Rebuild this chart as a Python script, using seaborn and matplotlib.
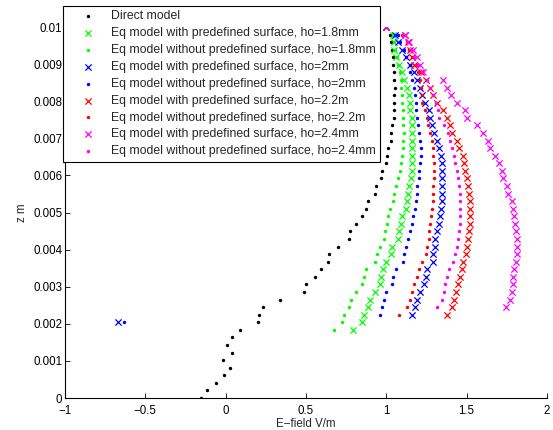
import matplotlib
matplotlib.use("Agg")
import matplotlib.pyplot as plt
import seaborn as sns

# z grid (m), shared by every series
Z = [0.0, 0.000204, 0.000408, 0.000612, 0.000816, 0.00102, 0.001224, 0.001429,
     0.001633, 0.001837, 0.002041, 0.002245, 0.002449, 0.002653, 0.002857, 0.003061,
     0.003265, 0.003469, 0.003673, 0.003878, 0.004082, 0.004286, 0.00449, 0.004694,
     0.004898, 0.005102, 0.005306, 0.00551, 0.005714, 0.005918, 0.006122, 0.006327,
     0.006531, 0.006735, 0.006939, 0.007143, 0.007347, 0.007551, 0.007755, 0.007959,
     0.008163, 0.008367, 0.008571, 0.008776, 0.00898, 0.009184, 0.009388, 0.009592,
     0.009796, 0.01]

# E-field values (V/m); each series starts at its own index of Z
direct_x = [-0.154, -0.116, -0.062, -0.009, 0.025, -0.017, 0.039, 0.008, 0.037, 0.089,
            0.203, 0.209, 0.232, 0.338, 0.49, 0.5, 0.556, 0.595, 0.635, 0.643,
            0.697, 0.767, 0.775, 0.809, 0.846, 0.875, 0.884, 0.929, 0.935, 0.968,
            0.973, 0.998, 1.002, 1.01, 1.029, 1.031, 1.037, 1.047, 1.047, 1.049,
            1.049, 1.051, 1.047, 1.047, 1.043, 1.043, 1.035, 1.029, 1.022]
green_with = [0.79, 0.846, 0.86, 0.884, 0.898, 0.93, 0.958, 0.969, 0.981, 0.995,
              1.03, 1.036, 1.07, 1.08, 1.09, 1.1, 1.125, 1.13, 1.137, 1.142,
              1.155, 1.16, 1.162, 1.163, 1.163, 1.163, 1.162, 1.16, 1.157, 1.15,
              1.145, 1.14, 1.128, 1.112, 1.096, 1.08, 1.062, 1.05, 1.045, 1.04, 0.998]
green_without = [0.674, 0.724, 0.738, 0.77, 0.78, 0.811, 0.848, 0.86, 0.875, 0.93,
                 0.94, 0.96, 0.985, 0.99, 1.002, 1.01, 1.025, 1.04, 1.05, 1.06,
                 1.072, 1.085, 1.093, 1.1, 1.104, 1.105, 1.108, 1.106, 1.104, 1.103,
                 1.1, 1.097, 1.093, 1.089, 1.083, 1.074, 1.068, 1.056, 1.046, 1.04]
blue_with = [-0.67, 1.163, 1.176, 1.19, 1.209, 1.232, 1.245, 1.252, 1.288, 1.293,
             1.3, 1.306, 1.316, 1.326, 1.334, 1.338, 1.344, 1.344, 1.345, 1.345,
             1.344, 1.344, 1.338, 1.328, 1.318, 1.295, 1.284, 1.273, 1.263, 1.238,
             1.225, 1.208, 1.19, 1.17, 1.145, 1.12, 1.097, 1.075, 1.057, 0.998]
blue_without = [-0.633, 0.962, 0.975, 0.984, 0.998, 1.033, 1.042, 1.06, 1.105, 1.11,
                1.125, 1.135, 1.145, 1.16, 1.165, 1.18, 1.184, 1.188, 1.194, 1.205,
                1.205, 1.209, 1.213, 1.213, 1.21, 1.205, 1.2, 1.19, 1.184, 1.182,
                1.18, 1.175, 1.161, 1.15, 1.145, 1.125, 1.11, 1.085, 1.074]
red_with = [1.375, 1.41, 1.424, 1.435, 1.445, 1.46, 1.469, 1.48, 1.495, 1.503,
            1.508, 1.512, 1.52, 1.524, 1.524, 1.522, 1.515, 1.51, 1.5, 1.492,
            1.485, 1.475, 1.454, 1.441, 1.406, 1.394, 1.375, 1.35, 1.313, 1.293,
            1.27, 1.245, 1.215, 1.17, 1.157, 1.145, 1.132, 1.116, 0.998]
red_without = [1.08, 1.13, 1.145, 1.157, 1.175, 1.19, 1.204, 1.22, 1.245, 1.255,
               1.263, 1.268, 1.275, 1.28, 1.286, 1.288, 1.288, 1.292, 1.295, 1.296,
               1.296, 1.29, 1.288, 1.282, 1.27, 1.261, 1.255, 1.24, 1.225, 1.225,
               1.215, 1.21, 1.2, 1.19, 1.16, 1.14, 1.126, 1.095]
magenta_with = [1.744, 1.77, 1.78, 1.786, 1.79, 1.796, 1.808, 1.811, 1.811, 1.811,
                1.808, 1.8, 1.795, 1.79, 1.78, 1.76, 1.75, 1.727, 1.717, 1.703,
                1.676, 1.645, 1.634, 1.6, 1.566, 1.504, 1.489, 1.441, 1.4, 1.375,
                1.35, 1.23, 1.209, 1.192, 1.165, 1.14, 1.116, 0.998]
magenta_without = [1.317, 1.345, 1.356, 1.365, 1.375, 1.388, 1.415, 1.43, 1.437, 1.445,
                   1.454, 1.458, 1.46, 1.46, 1.46, 1.458, 1.454, 1.448, 1.441, 1.43,
                   1.422, 1.406, 1.398, 1.385, 1.356, 1.33, 1.324, 1.31, 1.292, 1.271,
                   1.251, 1.22, 1.2, 1.17, 1.152, 1.13, 1.105]

# (label, values, first Z index, colour, marker)
series = [
    ("Direct model", direct_x, 0, "black", "."),
    ("Eq model with predefined surface, ho=1.8mm", green_with, 9, "#00ff00", "x"),
    ("Eq model without predefined surface, ho=1.8mm", green_without, 9, "#00ff00", "."),
    ("Eq model with predefined surface, ho=2mm", blue_with, 10, "#0000ff", "x"),
    ("Eq model without predefined surface, ho=2mm", blue_without, 10, "#0000ff", "."),
    ("Eq model with predefined surface, ho=2.2m", red_with, 11, "#ff0000", "x"),
    ("Eq model without predefined surface, ho=2.2m", red_without, 11, "#ff0000", "."),
    ("Eq model with predefined surface, ho=2.4mm", magenta_with, 12, "#ff00ff", "x"),
    ("Eq model without predefined surface, ho=2.4mm", magenta_without, 12, "#ff00ff", "."),
]

x_ticks = [-1, -0.5, 0, 0.5, 1, 1.5, 2]
x_ticklabels = ["\u22121", "\u22120.5", "0", "0.5", "1", "1.5", "2"]
y_ticks = [0, 0.001, 0.002, 0.003, 0.004, 0.005, 0.006, 0.007, 0.008, 0.009, 0.01]
y_ticklabels = ["0", "0.001", "0.002", "0.003", "0.004", "0.005",
                "0.006", "0.007", "0.008", "0.009", "0.01"]

sns.set_style("ticks")
plt.rcParams["font.family"] = ["Liberation Sans", "DejaVu Sans"]
FS = 8.3
LEG_FS = 8.8

fig = plt.figure(figsize=(5.53, 4.30), dpi=100)
ax = fig.add_axes([0.1175, 0.0744, 0.8716, 0.8628])

for label, xs, k0, color, marker in series:
    zs = Z[k0:k0 + len(xs)]
    if marker == "x":
        sns.scatterplot(x=xs, y=zs, ax=ax, marker="x", color=color, s=20,
                        linewidth=0.9, label=label, zorder=3)
    else:
        sns.scatterplot(x=xs, y=zs, ax=ax, marker="o", color=color, s=6,
                        linewidth=0, label=label, zorder=3)

ax.set_xlim(-1, 2)
ax.set_ylim(0, 0.01)
ax.set_xticks(x_ticks)
ax.set_xticklabels(x_ticklabels)
ax.set_yticks(y_ticks)
ax.set_yticklabels(y_ticklabels)
ax.tick_params(direction="in", length=3.5, width=0.6, labelsize=FS, colors="black")
ax.tick_params(axis="x", pad=5)
ax.tick_params(axis="y", pad=2)
sns.despine(ax=ax)
for side in ("left", "bottom"):
    ax.spines[side].set_linewidth(0.8)
    ax.spines[side].set_color("black")
ax.set_xlabel("E\u2212field V/m", fontsize=FS, labelpad=1)
ax.set_ylabel("z m", fontsize=FS, labelpad=4)

leg = ax.legend(loc="upper left", bbox_to_anchor=(63 / 553, 1 - 6 / 430),
                bbox_transform=fig.transFigure, frameon=True, fancybox=False,
                edgecolor="black", framealpha=1, fontsize=LEG_FS, borderaxespad=0,
                labelspacing=0.4, handletextpad=0.15, handlelength=3.45,
                borderpad=0.35, markerscale=1.0)
leg.get_frame().set_linewidth(0.8)

fig.savefig("out.png", dpi=100)
